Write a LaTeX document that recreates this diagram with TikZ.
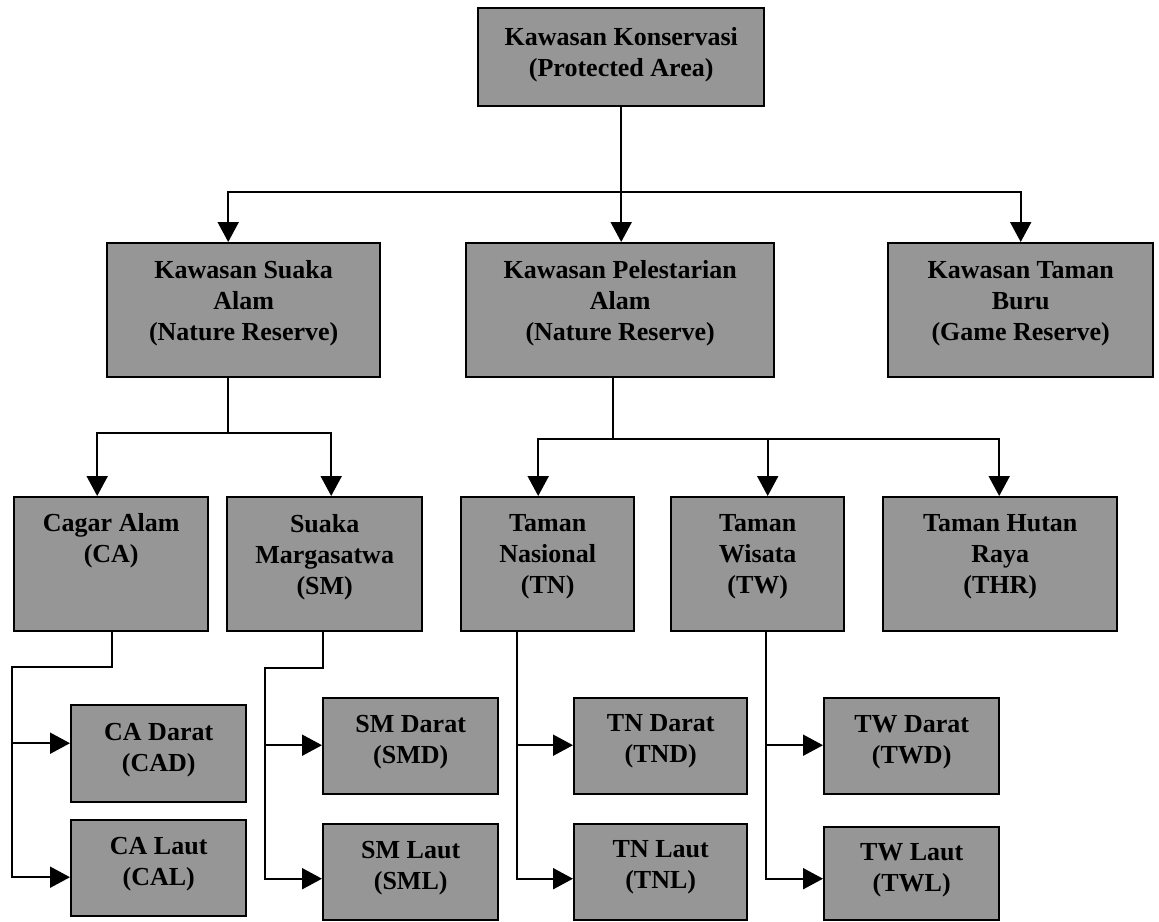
\documentclass[tikz,border=0pt]{standalone}
\usepackage{fontspec}
\setmainfont{Liberation Serif}
\usetikzlibrary{arrows.meta}
\definecolor{boxgray}{RGB}{150,150,150}
\begin{document}
\begin{tikzpicture}[x=1pt,y=-1pt,
  box/.style={draw=black, line width=2.4pt, fill=boxgray, inner sep=0pt, anchor=north west},
  txt/.style={font=\fontsize{26}{31}\selectfont\bfseries, align=center, text=black, inner sep=0pt},
  con/.style={line width=2pt},
  arr/.style={con, -{Triangle[length=20pt,width=21pt]}}]
\useasboundingbox (0,0) rectangle (1159,921);

% level 1
\node[box, minimum width=286pt, minimum height=98pt,
  label={[txt, yshift=2.5pt]center:{Kawasan Konservasi\\(Protected Area)}}] (top) at (477,7) {};

% level 2
\node[box, minimum width=273pt, minimum height=134pt,
  label={[txt, yshift=7pt]center:{Kawasan Suaka\\Alam\\(Nature Reserve)}}] (ska) at (106,242) {};
\node[box, minimum width=308pt, minimum height=134pt,
  label={[txt, yshift=7pt]center:{Kawasan Pelestarian\\Alam\\(Nature Reserve)}}] (kpa) at (465,242) {};
\node[box, minimum width=265pt, minimum height=134pt,
  label={[txt, yshift=6pt]center:{Kawasan Taman\\Buru\\(Game Reserve)}}] (ktb) at (887,242) {};

% level 3
\node[box, minimum width=194pt, minimum height=134pt,
  label={[txt, yshift=23pt]center:{Cagar Alam\\(CA)}}] (ca) at (13,496) {};
\node[box, minimum width=195pt, minimum height=134pt,
  label={[txt, yshift=7pt]center:{Suaka\\Margasatwa\\(SM)}}] (sm) at (226,496) {};
\node[box, minimum width=173pt, minimum height=134pt,
  label={[txt, yshift=7pt]center:{Taman\\Nasional\\(TN)}}] (tn) at (460,496) {};
\node[box, minimum width=173pt, minimum height=134pt,
  label={[txt, yshift=7pt]center:{Taman\\Wisata\\(TW)}}] (tw) at (670,496) {};
\node[box, minimum width=234pt, minimum height=134pt,
  label={[txt, yshift=7pt]center:{Taman Hutan\\Raya\\(THR)}}] (thr) at (882,496) {};

% level 4
\node[box, minimum width=175pt, minimum height=97pt,
  label={[txt, yshift=3.5pt]center:{CA Darat\\(CAD)}}] (cad) at (70,704) {};
\node[box, minimum width=175pt, minimum height=96pt,
  label={[txt, yshift=4pt]center:{CA Laut\\(CAL)}}] (cal) at (70,819) {};
\node[box, minimum width=175pt, minimum height=96pt,
  label={[txt, yshift=4pt]center:{SM Darat\\(SMD)}}] (smd) at (322,697) {};
\node[box, minimum width=175pt, minimum height=96pt,
  label={[txt, yshift=4.5pt]center:{SM Laut\\(SML)}}] (sml) at (322,823) {};
\node[box, minimum width=173pt, minimum height=96pt,
  label={[txt, yshift=5pt]center:{TN Darat\\(TND)}}] (tnd) at (573,697) {};
\node[box, minimum width=173pt, minimum height=96pt,
  label={[txt, yshift=4.5pt]center:{TN Laut\\(TNL)}}] (tnl) at (573,823) {};
\node[box, minimum width=175pt, minimum height=96pt,
  label={[txt, yshift=4pt]center:{TW Darat\\(TWD)}}] (twd) at (823,697) {};
\node[box, minimum width=175pt, minimum height=93pt,
  label={[txt, yshift=3pt]center:{TW Laut\\(TWL)}}] (twl) at (823,826) {};

% stem start points and junctions
\coordinate (s0) at (top.south);
\coordinate (j0) at (s0 |- 0,192);
\coordinate (s1) at ([xshift=-15.5pt]ska.south);
\coordinate (j1) at (s1 |- 0,433);
\coordinate (s2) at ([xshift=-7pt]kpa.south);
\coordinate (j2) at (s2 |- 0,439);
\coordinate (s3) at ([xshift=1pt]ca.south);
\coordinate (cav) at (12,667);
\coordinate (s4) at ([xshift=-1.5pt]sm.south);
\coordinate (smv) at (265,668);
\coordinate (s5) at ([xshift=-30.5pt]tn.south);
\coordinate (s6) at ([xshift=8.5pt]tw.south);

% level 1 -> level 2
\draw[con] (s0) -- (j0);
\draw[arr] (j0) -| ([xshift=-15.5pt]ska.north);
\draw[arr] (j0) -- (j0 |- kpa.north);
\draw[arr] (j0) -| (ktb.north);

% ska -> ca, sm
\draw[con] (s1) -- (j1);
\draw[arr] (j1) -| ([xshift=-14pt]ca.north);
\draw[arr] (j1) -| ([xshift=6.5pt]sm.north);

% kpa -> tn, tw, thr
\draw[con] (s2) -- (j2);
\draw[arr] (j2) -| ([xshift=-9.5pt]tn.north);
\draw[arr] (j2) -| ([xshift=10pt]tw.north);
\draw[arr] (j2) -| ([xshift=-1pt]thr.north);

% ca -> cad, cal
\draw[arr] (s3) |- (cav) |- ([yshift=10.5pt]cad.west);
\draw[arr] (cav) |- ([yshift=-9pt]cal.west);

% sm -> smd, sml
\draw[arr] (s4) |- (smv) |- ([yshift=1pt]smd.west);
\draw[arr] (smv) |- ([yshift=-6.5pt]sml.west);

% tn -> tnd, tnl
\draw[arr] (s5) |- ([yshift=1pt]tnd.west);
\draw[arr] (s5) |- ([yshift=-6.5pt]tnl.west);

% tw -> twd, twl
\draw[arr] (s6) |- ([yshift=1pt]twd.west);
\draw[arr] (s6) |- ([yshift=-5pt]twl.west);
\end{tikzpicture}
\end{document}
